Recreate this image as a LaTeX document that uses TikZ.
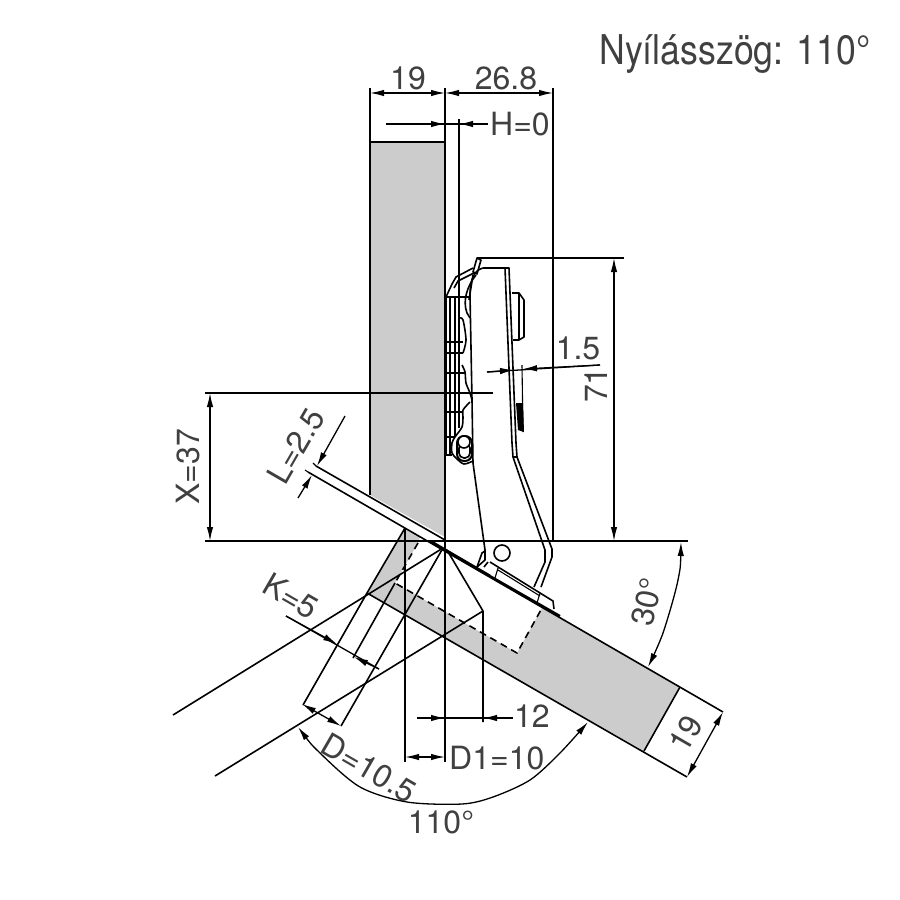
\documentclass[tikz,border=0pt]{standalone}
\usepackage{fontspec}
\setmainfont{TeX Gyre Heros}
\usetikzlibrary{arrows.meta}
\definecolor{doorgray}{RGB}{204,204,204}
\definecolor{labelgray}{RGB}{64,64,64}
\tikzset{
  part/.style={line width=1.6pt, line join=round},
  fine/.style={line width=1.1pt, line join=round},
  dimline/.style={line width=1.3pt},
  bothtips/.style={dimline, {Latex[length=14pt,width=6.5pt]}-{Latex[length=14pt,width=6.5pt]}},
  endtip/.style={dimline, -{Latex[length=14pt,width=6.5pt]}},
  dimtext/.style={inner sep=0pt, text=labelgray, font=\fontsize{32}{32}\selectfont}
}
\begin{document}
\begin{tikzpicture}[x=1pt, y=-1pt]
  \useasboundingbox (0,0) rectangle (900,900);
  % corners and free ends
  \coordinate (pivot) at (443,548);
  \coordinate (jambTL) at (370,142);
  \coordinate (jambTR) at (445,142);
  \coordinate (stripA) at (316,466);
  \coordinate (stripB) at (445,540);
  \coordinate (stripC) at (308,472);
  \coordinate (doorEnd) at (723,712);
  \coordinate (doorLow) at (367,593);
  \coordinate (doorLowEnd) at (687,777);
  \coordinate (boreTop) at (405,528);
  \coordinate (boreFarL) at (303,705);
  \coordinate (boreFarR) at (341,726);
  \coordinate (cupA) at (418,543);
  \coordinate (cupB) at (395,583);
  \coordinate (cupC) at (517,653);
  \coordinate (cupD) at (542,608);
  \coordinate (holeEnd) at (483,611);
  % door and jamb fill
  \fill[doorgray] (jambTL) -- (jambTR) -- (445,537) -- (370,495) -- cycle;
  \fill[doorgray] (boreTop) -- (doorLow) -- (644,751) -- (680,687) -- (cupD) -- (cupC) -- (cupB) -- (cupA) -- (420,537) -- cycle;
  % jamb
  \draw[part] (370,88) -- (370,495);
  \draw[part] (445,88) -- (445,762);
  \draw[part] (jambTL) -- (jambTR);
  \draw[part] (553,88) -- (553,541);
  \draw[fine] (459,119) -- (459,297);
  % door
  \draw[part] (stripA) -- (stripB);
  \draw[part] (stripC) -- (doorEnd);
  \draw[line width=2.8pt] (430,541) -- (490,576);
  \draw[line width=2.2pt] (490,576) -- (560,616);
  \draw[part] (doorLow) -- (doorLowEnd);
  \draw[part] (680,687) -- (644,751);
  \draw[part,dashed,dash pattern=on 7pt off 5pt] (cupA) -- (cupB) -- (cupC) -- (cupD);
  % bore lines
  \draw[part] (boreTop) -- (doorLow) -- (boreFarL);
  \draw[part] (pivot) -- (boreFarR);
  \draw[part] (cupB) -- (353,658);
  \draw[part] (pivot) -- (173,715);
  \draw[part] (holeEnd) -- (215,776);
  \draw[part] (447,550) -- (holeEnd) -- (483,722);
  \draw[part] (boreTop) -- (405,762);
  % reference lines
  \draw[part] (205,541) -- (688,541);
  \draw[part] (205,393) -- (493,393);
  \draw[part] (477,258) -- (624,258);
  % hinge arm
  \draw[part] (483,268) -- (509,268) -- (516,443) -- (517,457) -- (552,549) -- (552,557) -- (541,587);
  \draw[part] (505,268) -- (512,443) -- (513,457) -- (545,550) -- (545,562) -- (534,587);
  \draw[part] (513,457) -- (517,457);
  \draw[part] (483,268) .. controls (475,270) and (470,278) .. (470,295) -- (472,400) -- (473,463) -- (485,550) -- (485,560) -- (477,567);
  \draw[part] (477,567) -- (482,553) -- (485,551);
  \draw[part] (502,553) circle (8);
  % base plate
  \draw[part] (490,562) -- (553,601) -- (554,609);
  \draw[part] (484,567) -- (488,562);
  \draw[fine] (498,570) -- (540,596);
  \draw[fine] (498,568) -- (495,578);
  \draw[fine] (540,593) -- (537,603);
  % cover and pad
  \draw[part] (512,293) -- (519,293) -- (524,300) -- (524,337) -- (519,340) -- (513,340);
  \draw[part] (519,293) -- (519,340);
  \draw[fine] (522,365) -- (523,432);
  \fill (516,403) -- (523,403) -- (524,432) -- (518,430) -- cycle;
  % latch at top of the plate
  \draw[part] (473,272) -- (477,258) -- (481,260) -- (477,274) -- cycle;
  \draw[part] (473,268) -- (456,277) -- (452,284) -- (446,297);
  \draw[part] (474,273) -- (458,281) -- (454,288);
  \draw[part] (476,275) .. controls (468,285) and (462,300) .. (467,313) -- (470,318);
  \draw[part] (473,275) -- (469,300);
  % mounting plate
  \draw[part] (446,297) -- (470,297);
  \draw[part] (446,297) -- (446,455);
  \draw[part] (450,297) -- (450,455);
  \draw[part] (455,297) -- (455,437);
  \draw[part] (459,297) -- (459,428);
  \draw[part] (446,342) -- (463,342);
  \draw[part] (446,353) -- (463,353);
  \draw[part] (446,373) -- (466,373);
  \draw[part] (446,412) -- (463,412);
  \draw[part] (446,437) -- (455,437);
  \draw[part] (446,455) -- (452,455);
  \draw[part] (461,393) -- (472,393);
  \draw[part] plot[smooth] coordinates {(459,318) (463,320) (466,340) (463,353)};
  \draw[part] plot[smooth] coordinates {(462,365) (465,372) (466,383) (470,393) (472,400)};
  \draw[part] plot[smooth] coordinates {(470,402) (463,410) (463,417) (462,427) (455,437) (452,443) (452,453) (457,459) (464,464) (473,461)};
  % screw
  \draw[line width=2pt, rounded corners=7pt] (457,436) rectangle (472,461);
  \draw[part, rounded corners=5pt] (459,443) rectangle (470,458);
  \draw[part, fill=white] (464,442) circle (6);
  % top dimensions
  \draw[bothtips] (370,93) to (445,93);
  \draw[bothtips] (445,93) to (553,93);
  \node[dimtext] (widthdoor) at (408,78) {19};
  \node[dimtext] (widthcup) at (506,78) {26.8};
  \coordinate (hLeft) at (386,124);
  \coordinate (hRight) at (488,124);
  \draw[dimline] (hLeft) to (hRight);
  \draw[endtip] (hLeft) to (445,124);
  \draw[endtip] (hRight) to (459,124);
  \node[dimtext, anchor=west] (hgap) at (490,124) {H=0};
  % 71 and X
  \draw[bothtips] (614,258) to (614,541);
  \node[dimtext, rotate=90] (height) at (596,385) {71};
  \draw[bothtips] (210,393) to (210,541);
  \node[dimtext, rotate=90] (xdist) at (188,467) {X=37};
  % 1.5
  \coordinate (thinLeft) at (487,372);
  \coordinate (thinRight) at (600,365);
  \draw[dimline] (thinLeft) to (thinRight);
  \draw[endtip] (thinLeft) to (514,370);
  \draw[endtip] (thinRight) to (523,369);
  \node[dimtext] (thin) at (578,348) {1.5};
  % L
  \coordinate (lTop) at (345,416);
  \coordinate (lLow) at (298,498);
  \draw[endtip] (lTop) to (317,466);
  \draw[endtip] (lLow) to (312,475);
  \draw[fine] (stripA) to (313,463);
  \draw[fine] (stripC) to (305,470);
  \node[dimtext, rotate=60] (strip) at (296,446) {L=2.5};
  % K
  \coordinate (kLeft) at (286,616);
  \coordinate (kRight) at (379,669);
  \draw[dimline] (kLeft) to (kRight);
  \draw[endtip] (kLeft) to (337,644);
  \draw[endtip] (kRight) to (354,657);
  \node[dimtext, rotate=-30] (kdist) at (291,596) {K=5};
  % D
  \draw[bothtips] (302,704) to (341,726);
  \node[dimtext, rotate=-30] (bore) at (369,768) {D=10.5};
  % D1 and 12
  \draw[bothtips] (405,757) to (445,757);
  \node[dimtext, anchor=west] (boreflat) at (449,758) {D1=10};
  \coordinate (twLeft) at (417,718);
  \coordinate (twRight) at (513,718);
  \draw[dimline] (twLeft) to (twRight);
  \draw[endtip] (twLeft) to (445,718);
  \draw[endtip] (twRight) to (483,718);
  \node[dimtext, anchor=west] (offset) at (514,716) {12};
  % 19 on door
  \draw[bothtips] (doorEnd) to (doorLowEnd);
  \node[dimtext, rotate=60] (widthdoorb) at (686,734) {19};
  % angles
  \draw[bothtips] plot[smooth] coordinates {(681,542) (678,580) (663,633) (648,667)};
  \node[dimtext, rotate=78] (doorangle) at (647,602) {30°};
  \draw[bothtips] plot[smooth] coordinates {(298,727) (320,753) (360,787) (407,802) (462,804) (493,797) (530,780) (560,753) (588,722)};
  \node[dimtext] (openangle) at (441,822) {110°};
  % title
  \node[dimtext, font=\fontsize{41}{41}\selectfont] (title) at (735,54) {\scalebox{.87}[1]{Nyílásszög: 110°}};
\end{tikzpicture}
\end{document}
